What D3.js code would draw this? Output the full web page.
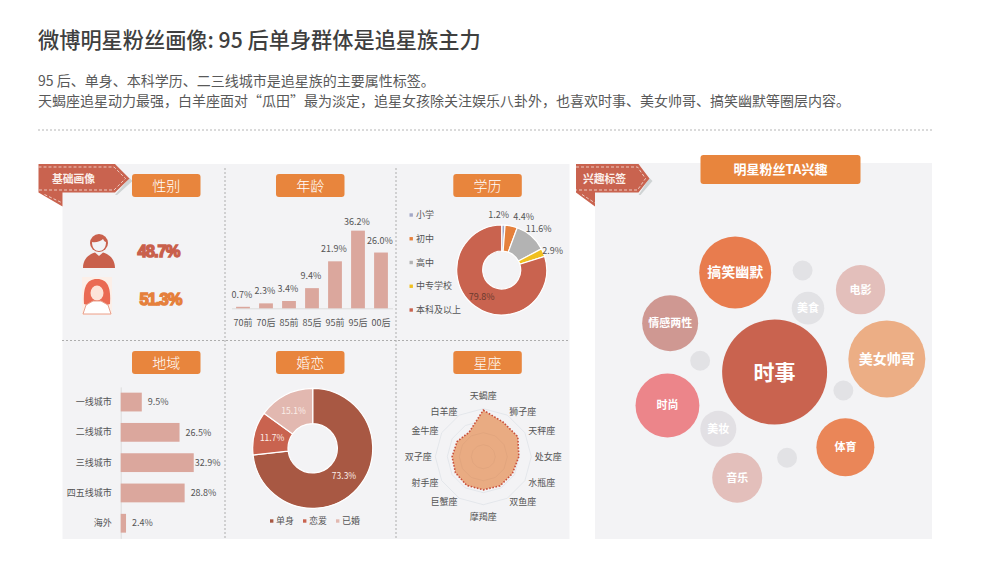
<!DOCTYPE html>
<html>
  <head>
    <meta charset="utf-8" />
    <script src="https://cdnjs.cloudflare.com/ajax/libs/d3/7.8.5/d3.min.js"></script>
    <style>
      * {
        margin: 0;
        padding: 0;
      }
      body {
        background-color: white;
        font-family: "Noto Sans CJK SC", "Noto Sans", sans-serif;
      }
      svg {
        display: block;
      }
      .label {
        font-size: 9px;
        fill: #555;
      }
      .axis path,
      .axis line {
        stroke: #dcdcdc;
      }
      .axis text {
        font-family: "Noto Sans CJK SC", sans-serif;
        font-size: 9px;
        fill: #555;
      }
    </style>
  </head>
  <body>
    <div id="chart"></div>
    <script>
      const titleText = "微博明星粉丝画像: 95 后单身群体是追星族主力";
      const subLines = [
        "95 后、单身、本科学历、二三线城市是追星族的主要属性标签。",
        "天蝎座追星动力最强，白羊座面对“瓜田”最为淡定，追星女孩除关注娱乐八卦外，也喜欢时事、美女帅哥、搞笑幽默等圈层内容。",
      ];

      const genderValues = ["48.7%", "51.3%"];

      const ageCats = ["70前", "70后", "85前", "85后", "95前", "95后", "00后"];
      const ageVals = [0.7, 2.3, 3.4, 9.4, 21.9, 36.2, 26.0];

      const eduCats = ["小学", "初中", "高中", "中专学校", "本科及以上"];
      const eduVals = [1.2, 4.4, 11.6, 2.9, 79.8];

      const regionCats = ["一线城市", "二线城市", "三线城市", "四五线城市", "海外"];
      const regionVals = [9.5, 26.5, 32.9, 28.8, 2.4];

      const loveCats = ["单身", "恋爱", "已婚"];
      const loveVals = [73.3, 11.7, 15.1];

      // clockwise from the top
      const starCats = ["天蝎座", "狮子座", "天秤座", "处女座", "水瓶座", "双鱼座", "摩羯座", "巨蟹座", "射手座", "双子座", "金牛座", "白羊座"];
      const starVals = [9.7, 8.3, 8.3, 7.4, 7.0, 7.0, 6.9, 6.9, 6.7, 6.5, 6.3, 5.9];

      const bubbleNames = ["时事", "美女帅哥", "搞笑幽默", "时尚", "体育", "情感两性", "音乐", "电影", "美妆", "美食", "", "", "", ""];
      const bubbleVals = [100, 53.8, 47, 37, 30.5, 28.4, 22.7, 22, 11.8, 9.6, 3.6, 3.6, 3.6, 3.6];

      // styling and layout, separate from the values above
      const orange = "#e8853d";
      const red = "#c9634f";
      const eduColors = ["#a3a8c8", "#e5803c", "#b3b3b3", "#f0c020", red];
      const eduLabelOffsets = [[-3, -55], [22, -53], [37, -41], [51, -19], [-20, 27]];
      const loveColors = ["#a85843", red, "#e2b8b0"];
      const starLabelDx = [0, 39.4, 58.4, 65, 58.4, 39.4, 0, -39.4, -58.4, -65, -58.4, -39.4];
      const starLabelDy = [-61, -45, -26, 0, 26, 45, 60.5, 45, 26, 0, -26, -45];
      const bubbleColors = ["#c9634f", "#ecae85", "#e87c4e", "#ec858a", "#ea8658", "#cf9892", "#e3bfbb", "#e3bfbb", "#e2e0e4", "#e2e2e5", "#e2e2e5", "#e2e2e5", "#e2e2e5", "#e2e2e5"];
      const bubbleFonts = [21, 14, 14, 11, 11, 11, 11, 11, 11, 11, 0, 0, 0, 0];
      // spots in the packed layout, percent of the panel
      const bubbleSpotX = [53.3, 86.6, 41.6, 21.5, 74.3, 22.3, 42.2, 78.8, 36.6, 63.2, 61.6, 31.2, 73.7, 57];
      const bubbleSpotY = [55.6, 52.1, 29.1, 64.5, 75.6, 42.6, 83.7, 33.7, 70.7, 38.6, 28.6, 52.6, 60.5, 78.4];

      const w = 1001;
      const h = 569;
      const svg = d3.select("#chart").append("svg").attr("width", w).attr("height", h);

      const defs = svg.append("defs");
      defs.append("filter").attr("id", "soft").append("feGaussianBlur").attr("stdDeviation", 0.7);

      // header
      svg.append("text").attr("x", 38).attr("y", 48).attr("font-size", 21.2).attr("font-weight", 500).attr("fill", "#3f3f3f").text(titleText);
      svg.selectAll(".sub").data(subLines).enter().append("text")
        .attr("class", "sub")
        .attr("x", 38)
        .attr("y", (d, i) => 86 + i * 20)
        .attr("font-size", 14)
        .attr("fill", "#595959")
        .text((d) => d);
      svg.append("line").attr("x1", 38).attr("x2", 932).attr("y1", 130).attr("y2", 130)
        .attr("stroke", "#b5b5b5").attr("stroke-dasharray", "2 2");

      // panels
      svg.append("rect").attr("x", 62.5).attr("y", 164).attr("width", 507).attr("height", 375).attr("fill", "#f3f3f5");
      svg.append("rect").attr("x", 595).attr("y", 163).attr("width", 337).attr("height", 376).attr("fill", "#f3f3f5");

      [[225, 168, 225, 538], [396, 168, 396, 538], [62, 340.5, 570, 340.5]].forEach((l) => {
        svg.append("line").attr("x1", l[0]).attr("y1", l[1]).attr("x2", l[2]).attr("y2", l[3])
          .attr("stroke", "#adadad").attr("stroke-dasharray", "2 2");
      });

      function ribbon(x0, x1, tip, foldX, text, textX) {
        const g = svg.append("g");
        g.append("path")
          .attr("d", `M${x0 + 8},195 H${x1 + 2} L${tip + 3},181 L${tip},178 L${x1},195 Z`)
          .attr("fill", "#cfd3d4");
        g.append("path")
          .attr("d", `M${x0},164 H${x1} L${tip},178.5 L${x1},192.5 H${foldX} V206.5 L${x0},192.5 Z`)
          .attr("fill", red);
        g.append("path")
          .attr("d", `M${x0},167 H${x1 - 1} L${tip - 4},178.5 L${x1 - 1},190 H${x0}`)
          .attr("fill", "none").attr("stroke", "#f6e6e0").attr("stroke-width", 0.8).attr("stroke-dasharray", "3 2");
        g.append("path")
          .attr("d", `M${x0 + 6},194.5 L${foldX},203`)
          .attr("fill", "none").attr("stroke", "#f6e6e0").attr("stroke-width", 0.8).attr("stroke-dasharray", "3 2");
        g.append("text").attr("x", textX).attr("y", 182.5).attr("font-size", 10.8).attr("font-weight", 700)
          .attr("text-anchor", "middle").attr("fill", "#fbeee9").text(text);
      }
      ribbon(38.5, 115, 129.5, 62.5, "基础画像", 73.5);
      ribbon(576, 638.5, 649.5, 595, "兴趣标签", 604.5);

      function pill(x, y, wd, ht, text, size, weight) {
        svg.append("rect").attr("x", x).attr("y", y).attr("width", wd).attr("height", ht).attr("rx", 3).attr("fill", orange);
        svg.append("text").attr("x", x + wd / 2).attr("y", y + ht / 2 + size * 0.36).attr("text-anchor", "middle")
          .attr("font-size", size).attr("font-weight", weight).attr("fill", "#fff").text(text);
      }
      pill(132, 174, 68.5, 23, "性别", 14, 300);
      pill(276, 174, 68.5, 23, "年龄", 14, 300);
      pill(453.3, 174, 68.5, 23, "学历", 14, 300);
      pill(132, 351, 68.5, 23, "地域", 14, 300);
      pill(276, 351, 68.5, 23, "婚恋", 14, 300);
      pill(453.3, 351, 68.5, 23, "星座", 14, 300);
      pill(700.5, 155, 160, 29, "明星粉丝TA兴趣", 13, 700);

      // gender icons
      const man = svg.append("g").attr("transform", "translate(99,243)");
      man.append("path").attr("d", "M-16,25 C-16,15 -9,11 -4,9.5 L0,13 L4,9.5 C9,11 16,15 16,25 Z").attr("fill", "#c9604c");
      man.append("circle").attr("r", 9).attr("fill", "#c9604c");
      man.append("path").attr("d", "M-7,-1 C-3,0 2,-2 4,-4 C5,-2 6,-1 7,-1 C7,5 4,8 0,8 C-4,8 -7,5 -7,-1 Z").attr("fill", "#f3f3f5");

      const woman = svg.append("g").attr("transform", "translate(97,294)").attr("filter", "url(#soft)");
      woman.append("rect").attr("x", -15).attr("y", -17).attr("width", 30).attr("height", 38).attr("fill", "#fcefe8");
      woman.append("path").attr("d", "M-13,10 C-14,-6 -11,-15 0,-15 C11,-15 14,-6 13,10 L7,12 H-7 Z").attr("fill", "#ea6a52");
      woman.append("ellipse").attr("cy", -1).attr("rx", 6.5).attr("ry", 7.5).attr("fill", "#fde3d8");
      woman.append("path").attr("d", "M-14,20 L-11,11 L-4,7 L4,7 L11,11 L14,20 Z").attr("fill", "#fff").attr("stroke", "#e9a08c").attr("stroke-width", 1);

      svg.selectAll(".gender").data(genderValues).enter().append("text")
        .attr("class", "gender")
        .attr("x", (d, i) => (i ? 160.5 : 158.5))
        .attr("y", (d, i) => (i ? 305 : 257))
        .attr("text-anchor", "middle")
        .attr("font-family", "Liberation Sans")
        .attr("font-size", 16.5)
        .attr("font-weight", 700)
        .attr("letter-spacing", -1)
        .attr("fill", (d, i) => (i ? "#e5803c" : "#c9604c"))
        .attr("stroke", (d, i) => (i ? "#e5803c" : "#c9604c"))
        .attr("stroke-width", 1.4)
        .text((d) => d);

      // age bars
      const ageX = d3.scaleBand().domain(ageCats).range([231.5, 392.5]).paddingInner(0.4).paddingOuter(0.2);
      const ageY = d3.scaleLinear().domain([0, 40]).range([308.3, 222.5]);
      svg.append("g").attr("class", "axis").attr("transform", "translate(0,308.3)")
        .call(d3.axisBottom(ageX).tickSize(0).tickPadding(11));
      svg.selectAll(".age").data(ageVals).enter().append("rect")
        .attr("x", (d, i) => ageX(ageCats[i]))
        .attr("y", (d) => ageY(d))
        .attr("width", ageX.bandwidth())
        .attr("height", (d) => ageY(0) - ageY(d))
        .attr("fill", "#dba79d");
      svg.selectAll(".ageLabel").data(ageVals).enter().append("text")
        .attr("class", "label")
        .attr("x", (d, i) => ageX(ageCats[i]) + ageX.bandwidth() / 2 - 1)
        .attr("y", (d) => ageY(d) - (d === d3.max(ageVals) ? 6 : 9))
        .attr("text-anchor", "middle")
        .text((d) => d.toFixed(1) + "%");

      // education donut
      const eduPie = d3.pie().sort(null)(eduVals);
      const eduArc = d3.arc().innerRadius(19).outerRadius(45);
      const edu = svg.append("g").attr("transform", "translate(501.7,270)");
      edu.selectAll("path").data(eduPie).enter().append("path")
        .attr("d", eduArc)
        .attr("fill", (d, i) => eduColors[i])
        .attr("stroke", "#fff")
        .attr("stroke-width", 1.2);
      edu.selectAll("text").data(eduPie).enter().append("text")
        .attr("class", "label")
        .attr("x", (d, i) => eduLabelOffsets[i][0])
        .attr("y", (d, i) => eduLabelOffsets[i][1])
        .attr("text-anchor", "middle")
        .attr("dy", "0.35em")
        .style("fill", (d, i) => (i === 4 ? "#6b3a2e" : "#555"))
        .text((d) => d.value.toFixed(1) + "%");
      const eduLegendY = d3.scalePoint().domain(eduCats).range([215, 310]);
      eduCats.forEach((c, i) => {
        svg.append("rect").attr("x", 409.5).attr("y", eduLegendY(c) - 1.7).attr("width", 3.4).attr("height", 3.4).attr("fill", eduColors[i]);
        svg.append("text").attr("class", "label").attr("x", 416).attr("y", eduLegendY(c) + 3.2).text(c);
      });

      // region bars
      const regionY = d3.scaleBand().domain(regionCats).range([386.9, 538.4]).paddingInner(0.38).paddingOuter(0.19);
      const regionX = d3.scaleLinear().domain([0, 40]).range([120.7, 209.5]);
      svg.append("g").attr("class", "axis").attr("transform", "translate(120.7,0)")
        .call(d3.axisLeft(regionY).tickSize(0).tickPadding(9));
      svg.selectAll(".region").data(regionVals).enter().append("rect")
        .attr("x", regionX(0))
        .attr("y", (d, i) => regionY(regionCats[i]))
        .attr("width", (d) => regionX(d) - regionX(0))
        .attr("height", regionY.bandwidth())
        .attr("fill", "#dba79d");
      svg.selectAll(".regionLabel").data(regionVals).enter().append("text")
        .attr("class", "label")
        .attr("x", (d) => regionX(d) + (d > 30 ? 1 : 6))
        .attr("y", (d, i) => regionY(regionCats[i]) + regionY.bandwidth() / 2 + 3.2)
        .text((d) => d.toFixed(1) + "%");

      // marital donut
      const lovePie = d3.pie().sort(null)(loveVals);
      const loveArc = d3.arc().innerRadius(24.7).outerRadius(60);
      const loveLabelArc = d3.arc().innerRadius(42).outerRadius(42);
      const love = svg.append("g").attr("transform", "translate(312.7,448.3)");
      love.selectAll("path").data(lovePie).enter().append("path")
        .attr("d", loveArc)
        .attr("fill", (d, i) => loveColors[i])
        .attr("stroke", "#fff")
        .attr("stroke-width", 1.2);
      love.selectAll("text").data(lovePie).enter().append("text")
        .attr("transform", (d) => `translate(${loveLabelArc.centroid(d)})`)
        .attr("text-anchor", "middle")
        .attr("dy", "0.35em")
        .attr("font-size", 8.5)
        .attr("fill", "#fbeee9")
        .text((d) => d.value.toFixed(1) + "%");
      const loveLegendX = d3.scalePoint().domain(loveCats).range([270, 336]);
      loveCats.forEach((c, i) => {
        svg.append("rect").attr("x", loveLegendX(c)).attr("y", 519.3).attr("width", 3.4).attr("height", 3.4).attr("fill", loveColors[i]);
        svg.append("text").attr("class", "label").attr("x", loveLegendX(c) + 6).attr("y", 524.3).text(c);
      });

      // constellation radar
      const starAngle = d3.scalePoint().domain(starCats).range([0, (2 * Math.PI * 11) / 12]);
      const starR = d3.scaleLinear().domain([0, 10]).range([0, 48]);
      const radar = svg.append("g").attr("transform", "translate(483.3,456.7)");
      const ringLine = d3.lineRadial().angle((d) => starAngle(d)).radius(0).curve(d3.curveLinearClosed);
      [7.5, 10].forEach((t) => {
        radar.append("path")
          .attr("d", ringLine.radius(starR(t))(starCats))
          .attr("fill", "none")
          .attr("stroke", "#dfe3e8")
          .attr("stroke-width", 0.8);
      });
      const starLine = d3.lineRadial()
        .angle((d, i) => starAngle(starCats[i]))
        .radius((d) => starR(d))
        .curve(d3.curveLinearClosed);
      radar.append("path")
        .attr("d", starLine(starVals))
        .attr("fill", "#e9ab82")
        .attr("stroke", "#c9503c")
        .attr("stroke-width", 1.6)
        .attr("stroke-dasharray", "1.6 1.6");
      // inner rings show faintly through the fill
      [2.5, 5].forEach((t) => {
        radar.append("path")
          .attr("d", ringLine.radius(starR(t))(starCats))
          .attr("fill", "none")
          .attr("stroke", "#dfa37c")
          .attr("stroke-width", 0.8);
      });
      radar.selectAll("text").data(starCats).enter().append("text")
        .attr("class", "label")
        .attr("x", (d, i) => starLabelDx[i])
        .attr("y", (d, i) => starLabelDy[i])
        .attr("text-anchor", "middle")
        .attr("dy", "0.35em")
        .text((d) => d);

      // interest bubbles
      const spotX = d3.scaleLinear().domain([0, 100]).range([595, 932]);
      const spotY = d3.scaleLinear().domain([0, 100]).range([163, 539]);
      const bubbleR = d3.scaleSqrt().domain([0, 100]).range([0, 52.5]);
      svg.selectAll(".bubble").data(bubbleVals).enter().append("circle")
        .attr("cx", (d, i) => spotX(bubbleSpotX[i]))
        .attr("cy", (d, i) => spotY(bubbleSpotY[i]))
        .attr("r", (d) => bubbleR(d))
        .attr("fill", (d, i) => bubbleColors[i]);
      svg.selectAll(".bubbleName").data(bubbleNames).enter().append("text")
        .attr("x", (d, i) => spotX(bubbleSpotX[i]))
        .attr("y", (d, i) => spotY(bubbleSpotY[i]))
        .attr("dy", "0.36em")
        .attr("text-anchor", "middle")
        .attr("font-size", (d, i) => bubbleFonts[i])
        .attr("font-weight", 700)
        .attr("fill", "#fff")
        .text((d) => d);
    </script>
  </body>
</html>
